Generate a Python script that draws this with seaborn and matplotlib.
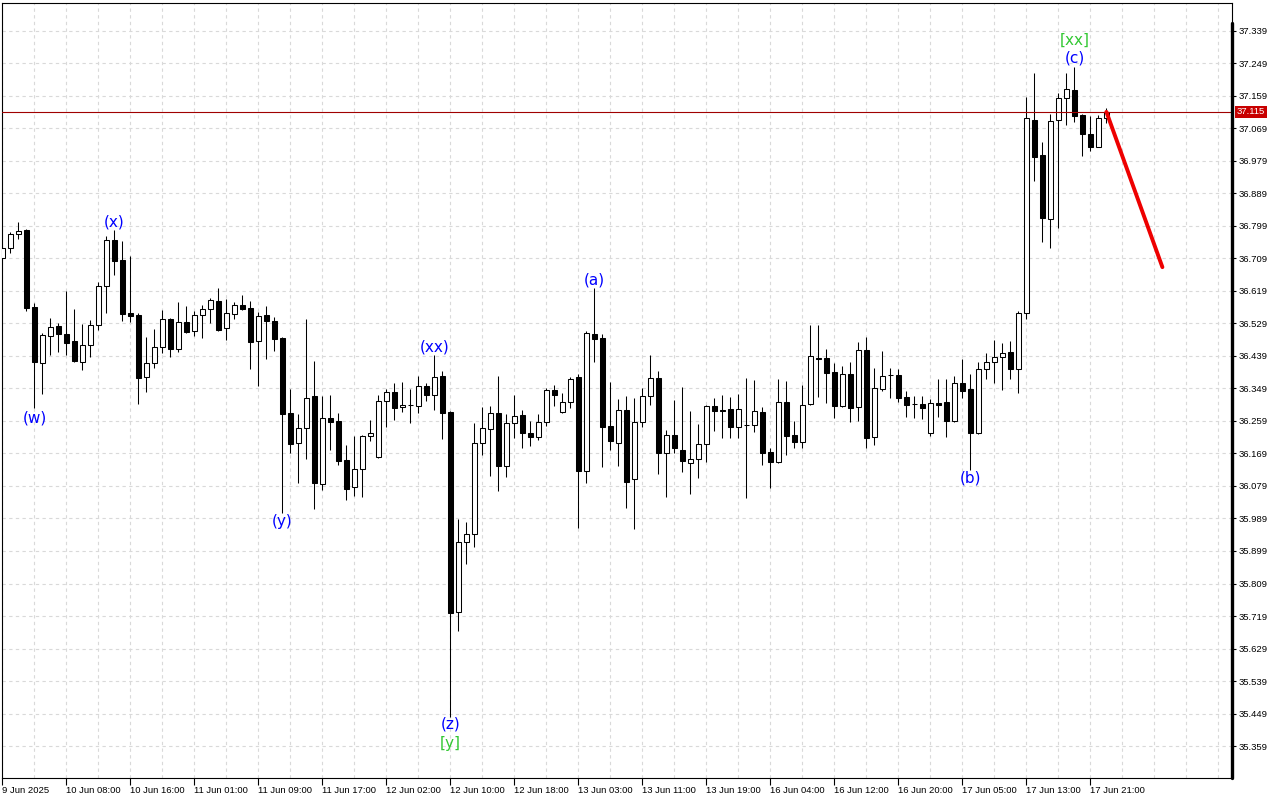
import numpy as np
import pandas as pd
import matplotlib
matplotlib.use("Agg")
import matplotlib.pyplot as plt
from matplotlib import transforms
import seaborn as sns

# ---------------- data (hourly candles) ----------------
opens = [36.710, 36.738, 36.777, 36.788, 36.575, 36.420, 36.494, 36.522, 36.500, 36.480,
         36.422, 36.469, 36.525, 36.633, 36.760, 36.705, 36.558, 36.553, 36.380, 36.420,
         36.464, 36.541, 36.458, 36.533, 36.508, 36.553, 36.569, 36.591, 36.516, 36.555,
         36.580, 36.572, 36.480, 36.553, 36.536, 36.489, 36.281, 36.198, 36.239, 36.328,
         36.084, 36.267, 36.259, 36.151, 36.076, 36.126, 36.217, 36.159, 36.314, 36.339,
         36.298, 36.303, 36.300, 36.356, 36.331, 36.384, 36.284, 35.730, 35.924, 35.946,
         36.198, 36.237, 36.281, 36.134, 36.253, 36.275, 36.226, 36.214, 36.256, 36.345,
         36.284, 36.311, 36.381, 36.121, 36.500, 36.489, 36.245, 36.198, 36.289, 36.098,
         36.256, 36.328, 36.378, 36.170, 36.220, 36.179, 36.142, 36.154, 36.195, 36.300,
         36.289, 36.292, 36.242, 36.248, 36.248, 36.284, 36.173, 36.145, 36.311, 36.220,
         36.201, 36.306, 36.434, 36.434, 36.395, 36.300, 36.389, 36.298, 36.456, 36.214,
         36.348, 36.386, 36.386, 36.325, 36.306, 36.306, 36.226, 36.309, 36.311, 36.259,
         36.364, 36.348, 36.226, 36.403, 36.422, 36.436, 36.450, 36.403, 36.558, 37.093,
         36.996, 36.818, 37.093, 37.154, 37.176, 37.107, 37.055, 37.019, 37.098]
highs = [36.746, 36.782, 36.810, 36.791, 36.586, 36.503, 36.544, 36.530, 36.619, 36.569,
         36.528, 36.539, 36.644, 36.771, 36.788, 36.757, 36.716, 36.558, 36.492, 36.514,
         36.566, 36.543, 36.588, 36.578, 36.564, 36.580, 36.599, 36.627, 36.597, 36.588,
         36.608, 36.591, 36.561, 36.578, 36.547, 36.492, 36.348, 36.278, 36.541, 36.425,
         36.328, 36.331, 36.281, 36.192, 36.217, 36.219, 36.262, 36.331, 36.348, 36.364,
         36.367, 36.348, 36.384, 36.364, 36.442, 36.397, 36.286, 35.987, 35.979, 36.253,
         36.298, 36.300, 36.384, 36.278, 36.331, 36.289, 36.259, 36.278, 36.350, 36.359,
         36.336, 36.381, 36.389, 36.508, 36.627, 36.500, 36.367, 36.320, 36.328, 36.323,
         36.350, 36.442, 36.397, 36.234, 36.317, 36.353, 36.287, 36.250, 36.303, 36.323,
         36.331, 36.325, 36.334, 36.378, 36.373, 36.298, 36.184, 36.375, 36.370, 36.259,
         36.359, 36.525, 36.525, 36.458, 36.420, 36.411, 36.422, 36.478, 36.492, 36.406,
         36.453, 36.406, 36.403, 36.342, 36.328, 36.328, 36.320, 36.375, 36.375, 36.384,
         36.431, 36.389, 36.422, 36.447, 36.483, 36.475, 36.480, 36.564, 37.156, 37.223,
         37.032, 37.109, 37.167, 37.223, 37.239, 37.110, 37.104, 37.107, 37.126]
lows = [36.705, 36.724, 36.763, 36.564, 36.295, 36.334, 36.442, 36.450, 36.442, 36.422,
        36.400, 36.436, 36.511, 36.558, 36.663, 36.536, 36.533, 36.306, 36.339, 36.406,
        36.447, 36.436, 36.450, 36.503, 36.494, 36.489, 36.530, 36.508, 36.483, 36.541,
        36.566, 36.403, 36.356, 36.431, 36.453, 36.004, 36.170, 36.087, 36.154, 36.015,
        36.068, 36.179, 36.137, 36.040, 36.051, 36.048, 36.203, 36.157, 36.242, 36.262,
        36.284, 36.253, 36.281, 36.314, 36.289, 36.209, 35.439, 35.677, 35.863, 35.911,
        36.165, 36.107, 36.065, 36.104, 36.212, 36.184, 36.190, 36.206, 36.245, 36.300,
        36.282, 36.295, 35.962, 36.087, 36.422, 36.131, 36.179, 36.134, 36.018, 35.960,
        36.242, 36.303, 36.112, 36.048, 36.170, 36.118, 36.057, 36.101, 36.145, 36.231,
        36.212, 36.212, 36.212, 36.046, 36.228, 36.137, 36.073, 36.143, 36.165, 36.184,
        36.184, 36.303, 36.325, 36.309, 36.267, 36.297, 36.256, 36.259, 36.184, 36.192,
        36.342, 36.323, 36.311, 36.270, 36.267, 36.264, 36.217, 36.270, 36.214, 36.256,
        36.323, 36.123, 36.223, 36.375, 36.364, 36.345, 36.375, 36.337, 36.541, 36.924,
        36.755, 36.738, 36.794, 37.079, 37.087, 36.993, 37.007, 37.017, 37.084]
closes = [36.738, 36.777, 36.785, 36.572, 36.422, 36.497, 36.519, 36.500, 36.475, 36.425,
          36.469, 36.525, 36.633, 36.760, 36.702, 36.555, 36.550, 36.378, 36.420, 36.464,
          36.541, 36.458, 36.533, 36.505, 36.553, 36.569, 36.594, 36.511, 36.558, 36.580,
          36.569, 36.478, 36.550, 36.536, 36.486, 36.278, 36.195, 36.239, 36.323, 36.087,
          36.267, 36.256, 36.148, 36.071, 36.126, 36.217, 36.226, 36.314, 36.339, 36.295,
          36.303, 36.302, 36.356, 36.331, 36.381, 36.281, 35.727, 35.924, 35.946, 36.198,
          36.239, 36.281, 36.134, 36.253, 36.273, 36.226, 36.214, 36.256, 36.345, 36.331,
          36.311, 36.375, 36.121, 36.503, 36.486, 36.242, 36.203, 36.289, 36.090, 36.256,
          36.328, 36.378, 36.170, 36.220, 36.184, 36.148, 36.154, 36.195, 36.300, 36.287,
          36.287, 36.242, 36.292, 36.247, 36.287, 36.170, 36.145, 36.311, 36.217, 36.201,
          36.303, 36.439, 36.431, 36.392, 36.300, 36.389, 36.295, 36.456, 36.212, 36.350,
          36.384, 36.385, 36.323, 36.303, 36.305, 36.295, 36.309, 36.303, 36.259, 36.364,
          36.342, 36.226, 36.403, 36.422, 36.436, 36.447, 36.403, 36.558, 37.098, 36.990,
          36.821, 37.090, 37.154, 37.179, 37.104, 37.055, 37.019, 37.098, 37.115]

time_labels = ["9 Jun 2025", "10 Jun 08:00", "10 Jun 16:00", "11 Jun 01:00", "11 Jun 09:00",
               "11 Jun 17:00", "12 Jun 02:00", "12 Jun 10:00", "12 Jun 18:00", "13 Jun 03:00",
               "13 Jun 11:00", "13 Jun 19:00", "16 Jun 04:00", "16 Jun 12:00", "16 Jun 20:00",
               "17 Jun 05:00", "17 Jun 13:00", "17 Jun 21:00"]
price_ticks = [37.339, 37.249, 37.159, 37.069, 36.979, 36.889, 36.799, 36.709, 36.619,
               36.529, 36.439, 36.349, 36.259, 36.169, 36.079, 35.989, 35.899, 35.809,
               35.719, 35.629, 35.539, 35.449, 35.359]

wave_names = ["(w)", "(x)", "(y)", "(xx)", "(z)", "[y]", "(a)", "(b)", "(c)", "[xx]"]
wave_bars = [4, 14, 35, 54, 56, 56, 74, 121, 134, 134]
wave_side = ["low", "high", "low", "high", "low", "low", "high", "low", "high", "high"]
wave_colors = ["#0000ff"] * 5 + ["#32c832"] + ["#0000ff"] * 3 + ["#32c832"]
wave_gap_px = [10, 8, 8, 8, 7, 26, 8, 8, 9, 27]

forecast_bar = [138, 145]
forecast_price = [37.115, 36.685]
current_price = 37.115

# ---------------- figure ----------------
sns.set_theme(style="white")
plt.rcParams["font.family"] = ["Liberation Sans", "DejaVu Sans"]

df = pd.DataFrame({"open": opens, "high": highs, "low": lows, "close": closes})
df["bar"] = np.arange(len(df))
up = df["close"] >= df["open"]

fig = plt.figure(figsize=(12.8, 8), dpi=100)
ax = fig.add_axes([2 / 1280, 22 / 800, 1230 / 1280, 775 / 800])
ax.set_facecolor("white")

# grid
ax.set_xlim(-0.05, 153.7)
ax.set_ylim(35.2704, 37.4165)
ax.set_xticks(np.arange(0, 8 * len(time_labels), 8))
ax.set_xticklabels(time_labels, ha="left")
ax.set_xticks(np.arange(4, 156, 4), minor=True)
ax.set_yticks(price_ticks)
ax.set_yticklabels([f"{v:.3f}" for v in price_ticks])
ax.yaxis.tick_right()
ax.grid(True, which="both", color="#d9d9d9", linestyle=(0, (3, 3)), linewidth=0.8, zorder=0)
ax.set_axisbelow(True)

# candles
ax.vlines(df["bar"], df["low"], df["high"], color="black", linewidth=0.75, zorder=2)
body_low = np.minimum(df["open"], df["close"])
body_h = np.maximum(np.abs(df["close"] - df["open"]), 0.0006)
ax.bar(df["bar"][up], body_h[up], bottom=body_low[up], width=0.56,
       facecolor="white", edgecolor="black", linewidth=0.75, zorder=3)
ax.bar(df["bar"][~up], body_h[~up], bottom=body_low[~up], width=0.56,
       facecolor="black", edgecolor="black", linewidth=0.75, zorder=3)

# current price line
ax.axhline(current_price, color="#a00000", linewidth=0.8, zorder=4)

# forecast line
sns.lineplot(x=forecast_bar, y=forecast_price, ax=ax, color="#ee0000", linewidth=2.8,
             legend=False, zorder=5)

# wave labels
for name, b, side, gap, col in zip(wave_names, wave_bars, wave_side, wave_gap_px, wave_colors):
    yv = df.loc[b, side]
    off = gap * 0.72 if side == "high" else -gap * 0.72
    ax.annotate(name, xy=(b, yv), xytext=(0, off), textcoords="offset points",
                ha="center", va="center", color=col, fontsize=11, family="DejaVu Sans",
                zorder=6)

# ticks & spines
ax.tick_params(axis="y", which="major", direction="out", length=3, width=0.8,
               labelsize=6.8, pad=1.5, colors="black", right=True, left=False)
ax.tick_params(axis="x", which="major", direction="out", length=5, width=0.8,
               labelsize=6.8, pad=1, colors="black", bottom=True)
ax.tick_params(axis="x", which="minor", length=0)
for s in ax.spines.values():
    s.set_visible(True)
    s.set_color("black")
    s.set_linewidth(0.8)
ax.plot([1, 1], [0, 1 - 20 / 775], transform=ax.transAxes, color="black",
        linewidth=2.4, clip_on=False, zorder=7)
ax.set_xlabel("")
ax.set_ylabel("")

# current price tag
trans = transforms.blended_transform_factory(ax.transAxes, ax.transData)
ax.text(1.0 + 5 / 1230, current_price, f"{current_price:.3f}", transform=trans,
        color="white", fontsize=6.8, ha="left", va="center", zorder=10, clip_on=False,
        bbox=dict(boxstyle="square,pad=0.18", facecolor="#c80000", edgecolor="none"))

fig.savefig("out.png", dpi=100, facecolor="white")
